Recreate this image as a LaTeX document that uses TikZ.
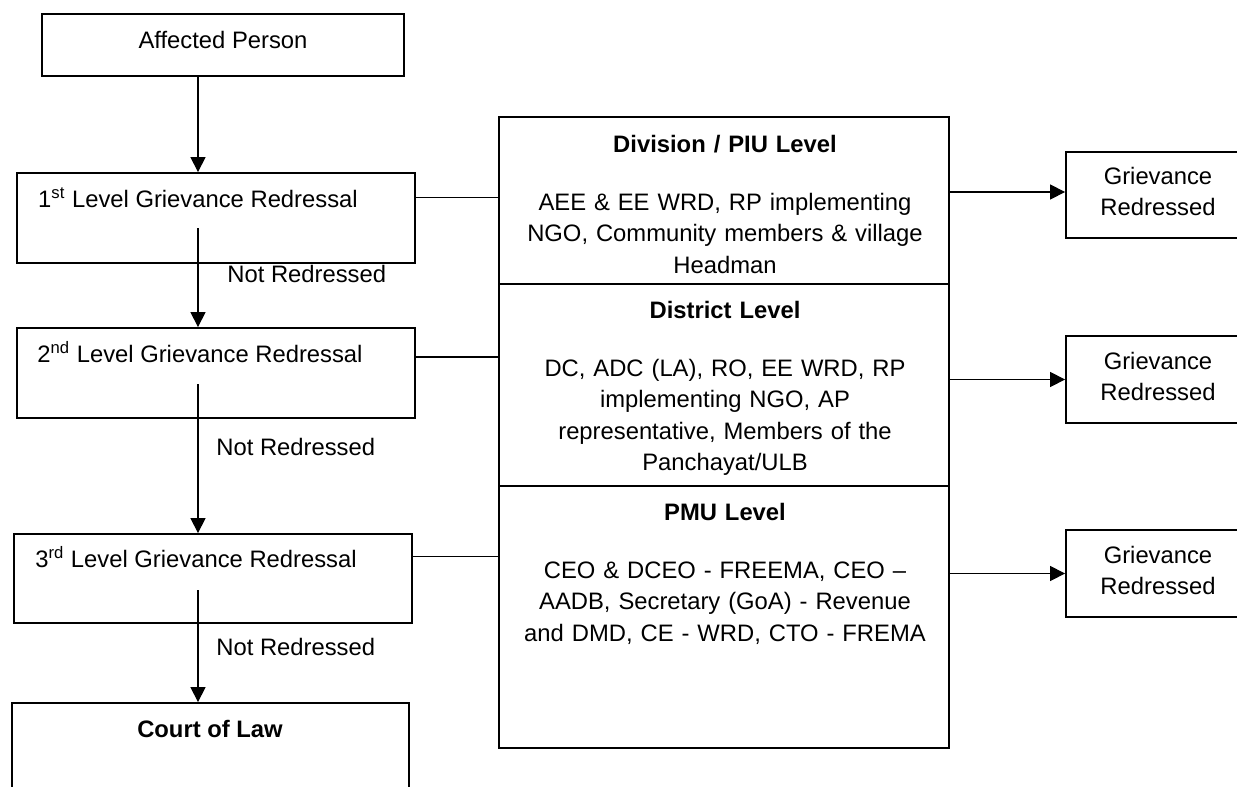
\documentclass[tikz,border=0pt]{standalone}
\usepackage{fontspec}
\setmainfont{Liberation Sans}
\usetikzlibrary{arrows.meta}
\begin{document}
\begin{tikzpicture}[x=0.5pt,y=-0.5pt,
  box/.style={draw, line width=0.9pt, inner sep=0pt},
  txt/.style={font=\fontsize{11.9}{15.75}\selectfont, inner sep=0pt, anchor=base},
  para/.style={txt, align=center, text width=#1},
  arr/.style={line width=0.6pt, -{Triangle[length=7.5pt,width=7.5pt]}},
  link/.style={line width=0.6pt}]
\useasboundingbox (0,0) rectangle (1237,787);
\node[box, minimum width=181pt, minimum height=31pt] (ap) at (223,45) {};
\node[box, minimum width=199pt, minimum height=45pt] (l1) at (216,218) {};
\node[box, minimum width=199pt, minimum height=45pt] (l2) at (216,373) {};
\node[box, minimum width=199pt, minimum height=44.5pt] (l3) at (213,578.5) {};
\node[box, minimum width=198.5pt, minimum height=58.5pt] (cl) at (210.5,761.5) {};
\node[box, minimum width=225pt, minimum height=83.5pt] (piu) at (724,200.5) {};
\node[box, minimum width=225pt, minimum height=101pt] (dl) at (724,385) {};
\node[box, minimum width=225pt, minimum height=131pt] (pmu) at (724,617) {};
\node[box, minimum width=92pt, minimum height=43pt] (g1) at (1158,195) {};
\node[box, minimum width=92pt, minimum height=43.5pt] (g2) at (1158,379.5) {};
\node[box, minimum width=92pt, minimum height=43.5pt] (g3) at (1158,573.5) {};
\node[txt] (apt) at (223,48) {Affected Person};
\node[txt] (l1t) at (198,207) {1\textsuperscript{st} Level Grievance Redressal};
\node[txt] (l2t) at (200,362) {2\textsuperscript{nd} Level Grievance Redressal};
\node[txt] (l3t) at (196,567) {3\textsuperscript{rd} Level Grievance Redressal};
\node[txt] (clt) at (210,737) {\textbf{Court of Law}};
\node[txt, anchor=base west] (nr1) at (227,282) {Not Redressed};
\node[txt, anchor=base west] (nr2) at (216,455) {Not Redressed};
\node[txt, anchor=base west] (nr3) at (216,655) {Not Redressed};
\node[para=215pt] (piut) at (725,152) {\textbf{Division / PIU Level}\\[13.25pt]
  AEE \& EE WRD, RP implementing\\NGO, Community members \& village\\Headman};
\node[para=215pt] (dlt) at (725,318) {\textbf{District Level}\\[13.25pt]
  DC, ADC (LA), RO, EE WRD, RP\\implementing NGO, AP\\representative, Members of the\\Panchayat/ULB};
\node[para=215pt] (pmut) at (725,520) {\textbf{PMU Level}\\[13.25pt]
  CEO \& DCEO - FREEMA, CEO –\\AADB, Secretary (GoA) - Revenue\\and DMD, CE - WRD, CTO - FREMA};
\node[para=90pt] (g1t) at (1158,184) {Grievance\\Redressed};
\node[para=90pt] (g2t) at (1158,369) {Grievance\\Redressed};
\node[para=90pt] (g3t) at (1158,563) {Grievance\\Redressed};
\coordinate (d1) at (198,228);
\coordinate (d2) at (198,384);
\coordinate (d3) at (198,590);
\coordinate (c2) at (200,357);
\draw[arr] (ap.south -| d1) -- (l1.north -| d1);
\draw[arr] (d1) -- (l2.north -| d1);
\draw[arr] (d2) -- (l3.north -| d2);
\draw[arr] (d3) -- (cl.north -| d3);
\draw[link] (l1t.east -| l1.east) -- (l1t.east -| piu.west);
\draw[link] (c2 -| l2.east) -- (c2 -| dl.west);
\draw[link] (l3t.east -| l3.east) -- (l3t.east -| pmu.west);
\draw[arr] ([yshift=1.5pt]g1.west -| piu.east) -- ([yshift=1.5pt]g1.west);
\draw[arr] (g2.west -| dl.east) -- (g2.west);
\draw[arr] (g3.west -| pmu.east) -- (g3.west);
\end{tikzpicture}
\end{document}
